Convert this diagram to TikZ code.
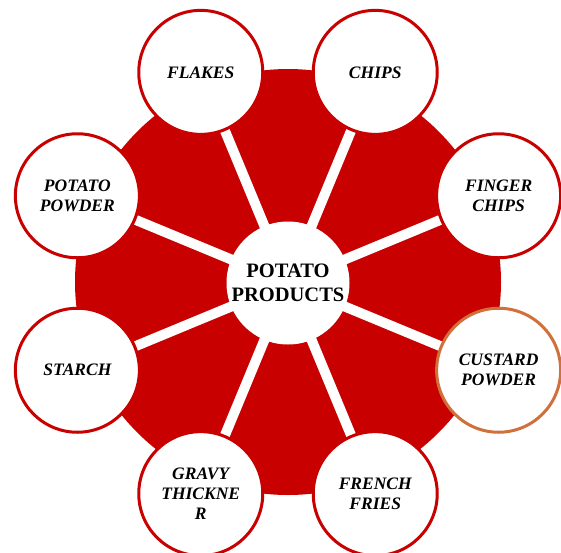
\documentclass[tikz,border=0pt]{standalone}
\usepackage{fontspec}
\setmainfont{Liberation Serif}
\usetikzlibrary{backgrounds}
\definecolor{potatored}{HTML}{C80000}
\definecolor{custardorange}{HTML}{D0703A}

\begin{document}
\begin{tikzpicture}[x=1pt, y=1pt,
    hub/.style={circle, fill=white, draw=white, line width=1pt, minimum size=122pt, inner sep=0pt, align=center, font=\fontsize{20.5}{23.5}\selectfont\bfseries},
    item/.style={circle, fill=white, draw=potatored, line width=3pt, minimum size=124pt, inner sep=0pt, align=center, font=\fontsize{17.5}{20}\selectfont\bfseries\itshape},
    spoke/.style={white, line width=10pt}]

    \useasboundingbox (-288,-269) rectangle (273,283);
    \clip (-288,-269) rectangle (273,283);

    % Nodes
    \node [hub] (hub) at (0,0) {POTATO\\PRODUCTS};
    \node [item] (flakes) at (112.5:228) {FLAKES};
    \node [item] (chips) at (67.5:228) {CHIPS};
    \node [item] (finger) at (22.5:228) {FINGER\\CHIPS};
    \node [item, draw=custardorange] (custard) at (-22.5:228) {CUSTARD\\POWDER};
    \node [item] (fries) at (-67.5:228) {FRENCH\\FRIES};
    \node [item] (gravy) at (-112.5:228) {GRAVY\\THICKNE\\R};
    \node [item] (starch) at (-157.5:228) {STARCH};
    \node [item] (powder) at (157.5:228) {POTATO\\POWDER};

    % Red disc and spokes
    \begin{scope}[on background layer]
        \fill [potatored] (0,1) circle (213);
        \foreach \n in {flakes, chips, finger, custard, fries, gravy, starch, powder}
            \draw [spoke] (hub.center) -- (\n.center);
    \end{scope}

\end{tikzpicture}
\end{document}
